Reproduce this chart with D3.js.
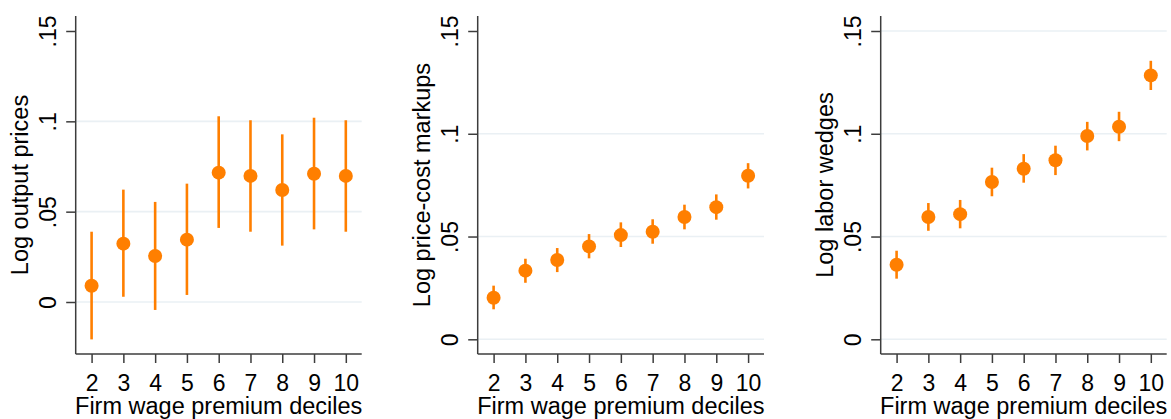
<!DOCTYPE html>
<html>
<head>
<meta charset="utf-8">
<script src="https://cdn.jsdelivr.net/npm/d3@7"></script>
<style>
  html, body { margin: 0; padding: 0; background: #fff; }
  svg { display: block; font-family: "Liberation Sans", Arial, sans-serif; }
</style>
</head>
<body>
<svg id="chart" width="1171" height="419"></svg>
<script>
// Wage premium deciles on the x axis
const deciles = [2, 3, 4, 5, 6, 7, 8, 9, 10];

// Log output prices: point estimates and 95% interval bounds
const pricesEst = [0.0090, 0.0323, 0.0255, 0.0345, 0.0716, 0.0698, 0.0620, 0.0710, 0.0698];
const pricesLo  = [-0.0207, 0.0029, -0.0044, 0.0039, 0.0410, 0.0389, 0.0312, 0.0402, 0.0389];
const pricesHi  = [0.0389, 0.0622, 0.0554, 0.0655, 0.1028, 0.1006, 0.0928, 0.1020, 0.1006];

// Log price-cost markups
const markupsEst = [0.0202, 0.0334, 0.0386, 0.0452, 0.0507, 0.0523, 0.0595, 0.0643, 0.0796];
const markupsLo  = [0.0146, 0.0275, 0.0327, 0.0394, 0.0449, 0.0465, 0.0535, 0.0582, 0.0734];
const markupsHi  = [0.0261, 0.0392, 0.0444, 0.0512, 0.0569, 0.0584, 0.0655, 0.0705, 0.0857];

// Log labor wedges
const wedgesEst = [0.0363, 0.0595, 0.0609, 0.0765, 0.0830, 0.0871, 0.0989, 0.1034, 0.1284];
const wedgesLo  = [0.0295, 0.0528, 0.0540, 0.0696, 0.0762, 0.0799, 0.0919, 0.0964, 0.1213];
const wedgesHi  = [0.0431, 0.0663, 0.0678, 0.0835, 0.0901, 0.0942, 0.1058, 0.1107, 0.1355];

// Y axis ticks and their labels
const yTicks = [0, 0.05, 0.1, 0.15];
const yTickLabels = ["0", ".05", ".1", ".15"];

const xTitle = "Firm wage premium deciles";

const panels = [
  { title: "Log output prices",      est: pricesEst,  lo: pricesLo,  hi: pricesHi,
    left: 75.7,  right: 361.7,  yMin: -0.02878, yMax: 0.1583, gridTop: false },
  { title: "Log price-cost markups", est: markupsEst, lo: markupsLo, hi: markupsHi,
    left: 477.7, right: 764.0,  yMin: -0.00715, yMax: 0.1573, gridTop: false },
  { title: "Log labor wedges",       est: wedgesEst,  lo: wedgesLo,  hi: wedgesHi,
    left: 880.7, right: 1166.7, yMin: -0.00715, yMax: 0.1573, gridTop: true }
];

const plotTop = 16, plotBottom = 354;
const orange = "#ff7f00";
const axisColor = "#3c3c3c";
const gridColor = "#eaf0f4";
const tickFont = 23;
const titleFont = 23.5;

const svg = d3.select("#chart");

panels.forEach(p => {
  const x = d3.scaleLinear().domain([1.5, 10.5]).range([p.left, p.right]);
  const y = d3.scaleLinear().domain([p.yMin, p.yMax]).range([plotBottom, plotTop]);
  const g = svg.append("g");

  // horizontal grid
  const gridTicks = p.gridTop ? yTicks : yTicks.filter(t => t < 0.15);
  g.append("g").selectAll("line").data(gridTicks).join("line")
    .attr("x1", p.left).attr("x2", p.right)
    .attr("y1", d => y(d)).attr("y2", d => y(d))
    .attr("stroke", gridColor).attr("stroke-width", 1.6);

  // y axis
  const yAxis = g.append("g").attr("transform", `translate(${p.left},0)`)
    .call(d3.axisLeft(y).tickValues(yTicks)
      .tickFormat((d, i) => yTickLabels[i]).tickSize(9.5).tickPadding(0));
  yAxis.select(".domain").attr("d", `M0,${plotTop}V${plotBottom}`)
    .attr("stroke", axisColor).attr("stroke-width", 1.5);
  yAxis.selectAll(".tick line").attr("stroke", axisColor).attr("stroke-width", 1.5);
  yAxis.selectAll(".tick text")
    .attr("x", null).attr("dy", null)
    .attr("transform", "translate(-19.5,0) rotate(-90)")
    .attr("text-anchor", "middle")
    .attr("fill", "#000")
    .style("font-size", tickFont + "px")
    .style("font-family", "Liberation Sans, Arial, sans-serif");

  // x axis
  const xAxis = g.append("g").attr("transform", `translate(0,${plotBottom})`)
    .call(d3.axisBottom(x).tickValues(deciles).tickFormat(d3.format("d"))
      .tickSize(9).tickPadding(0));
  xAxis.select(".domain").attr("d", `M${p.left},0H${p.right}`)
    .attr("stroke", axisColor).attr("stroke-width", 1.5);
  xAxis.selectAll(".tick line").attr("stroke", axisColor).attr("stroke-width", 1.5);
  xAxis.selectAll(".tick text")
    .attr("y", 36.5).attr("dy", null)
    .attr("fill", "#000")
    .style("font-size", tickFont + "px")
    .style("font-family", "Liberation Sans, Arial, sans-serif");

  // axis titles
  g.append("text")
    .attr("x", (p.left + p.right) / 2).attr("y", 413.5)
    .attr("text-anchor", "middle")
    .style("font-size", titleFont + "px")
    .text(xTitle);

  g.append("text")
    .attr("transform", `translate(${p.left - 47.5},${(plotTop + plotBottom) / 2}) rotate(-90)`)
    .attr("text-anchor", "middle")
    .style("font-size", titleFont + "px")
    .text(p.title);

  // confidence intervals
  g.append("g").selectAll("line").data(deciles).join("line")
    .attr("x1", d => x(d)).attr("x2", d => x(d))
    .attr("y1", (d, i) => y(p.lo[i])).attr("y2", (d, i) => y(p.hi[i]))
    .attr("stroke", orange).attr("stroke-width", 2.6);

  // point estimates
  g.append("g").selectAll("circle").data(deciles).join("circle")
    .attr("cx", d => x(d)).attr("cy", (d, i) => y(p.est[i]))
    .attr("r", 7)
    .attr("fill", orange);
});
</script>
</body>
</html>
